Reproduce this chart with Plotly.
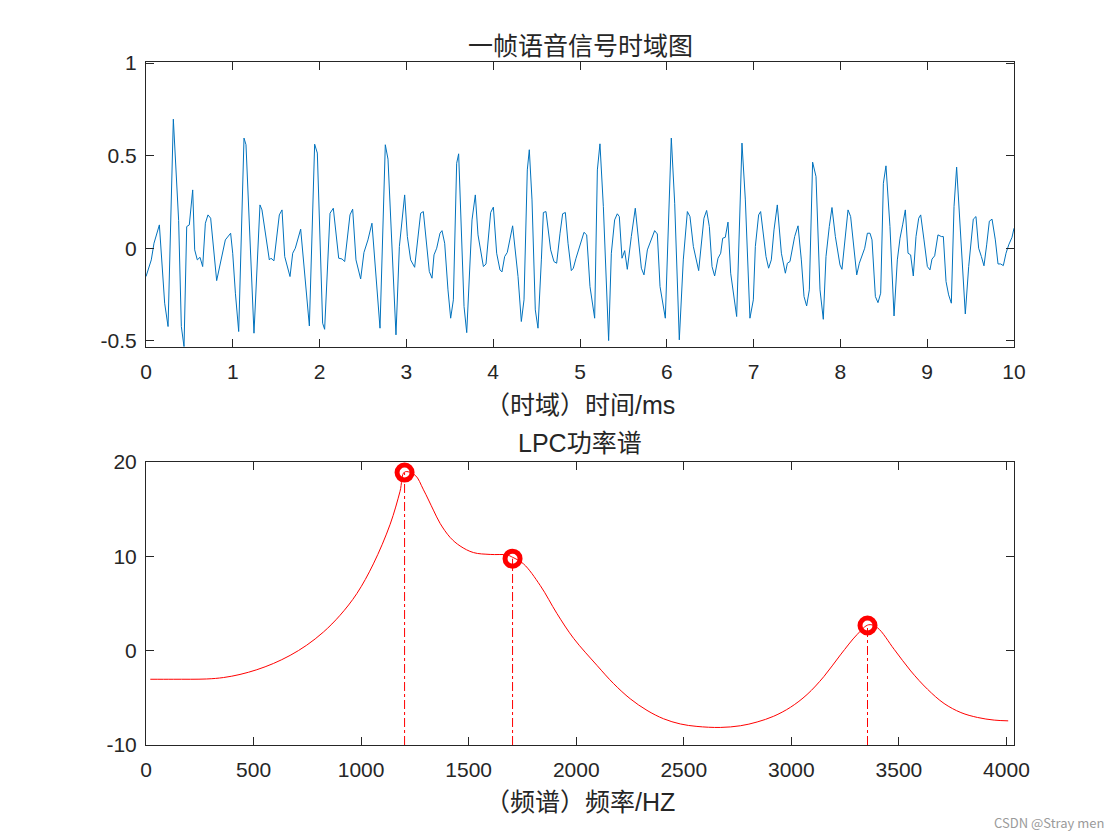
import plotly.graph_objects as go

# ---------------- data: frame of speech (time in ms, amplitude) ----------------
time_ms = [
    0.000, 0.061, 0.092, 0.154, 0.215, 0.254, 0.315, 0.346, 0.376, 0.407, 0.438, 0.469, 0.499, 0.538,
    0.561, 0.591, 0.622, 0.653, 0.684, 0.714, 0.745, 0.814, 0.914, 0.975, 0.999, 1.030, 1.068, 1.129,
    1.152, 1.244, 1.313, 1.336, 1.421, 1.440, 1.474, 1.536, 1.567, 1.598, 1.659, 1.690, 1.720, 1.782,
    1.882, 1.943, 1.974, 2.035, 2.058, 2.120, 2.158, 2.220, 2.258, 2.289, 2.350, 2.381, 2.419, 2.473,
    2.511, 2.557, 2.603, 2.696, 2.757, 2.788, 2.880, 2.919, 2.949, 2.980, 3.011, 3.049, 3.095, 3.164,
    3.195, 3.264, 3.295, 3.318, 3.349, 3.387, 3.410, 3.441, 3.479, 3.510, 3.541, 3.579, 3.602, 3.664,
    3.695, 3.756, 3.794, 3.825, 3.887, 3.917, 3.971, 4.002, 4.040, 4.078, 4.101, 4.132, 4.162, 4.193,
    4.224, 4.286, 4.324, 4.355, 4.393, 4.416, 4.447, 4.485, 4.516, 4.555, 4.578, 4.608, 4.662, 4.700,
    4.731, 4.770, 4.800, 4.831, 4.862, 4.900, 4.923, 4.954, 5.008, 5.046, 5.077, 5.115, 5.169, 5.200,
    5.230, 5.269, 5.330, 5.361, 5.399, 5.430, 5.453, 5.484, 5.515, 5.545, 5.591, 5.637, 5.707, 5.737,
    5.776, 5.829, 5.860, 5.891, 5.922, 5.983, 6.014, 6.052, 6.091, 6.144, 6.190, 6.237, 6.267, 6.306,
    6.367, 6.428, 6.459, 6.490, 6.521, 6.551, 6.590, 6.621, 6.644, 6.674, 6.705, 6.736, 6.805, 6.836,
    6.866, 6.905, 6.958, 6.997, 7.020, 7.058, 7.081, 7.143, 7.173, 7.204, 7.235, 7.273, 7.320, 7.366,
    7.389, 7.419, 7.473, 7.512, 7.550, 7.581, 7.611, 7.642, 7.680, 7.719, 7.765, 7.803, 7.834, 7.872,
    7.903, 7.942, 7.995, 8.018, 8.057, 8.088, 8.118, 8.149, 8.188, 8.218, 8.249, 8.280, 8.311, 8.341,
    8.364, 8.403, 8.433, 8.464, 8.495, 8.525, 8.571, 8.618, 8.656, 8.687, 8.717, 8.748, 8.779, 8.809,
    8.840, 8.871, 8.902, 8.925, 8.963, 9.002, 9.032, 9.055, 9.086, 9.124, 9.163, 9.186, 9.217, 9.247,
    9.278, 9.309, 9.339, 9.378, 9.439, 9.478, 9.508, 9.531, 9.562, 9.593, 9.624, 9.654, 9.685, 9.716,
    9.747, 9.785, 9.816, 9.846, 9.877, 9.908, 9.939, 9.977, 10.000,
]
amplitude = [
    -0.153, -0.063, 0.027, 0.126, -0.297, -0.423, 0.697, 0.420, 0.150, -0.423, -0.532, 0.117, 0.126, 0.315,
    -0.009, -0.063, -0.049, -0.099, 0.135, 0.180, 0.162, -0.175, 0.045, 0.081, -0.027, -0.243, -0.450, 0.595,
    0.559, -0.459, 0.234, 0.207, -0.063, -0.054, -0.068, 0.180, 0.207, -0.045, -0.153, -0.027, 0.000, 0.103,
    -0.420, 0.562, 0.514, -0.405, -0.438, 0.189, 0.216, -0.054, -0.058, -0.072, 0.180, 0.211, -0.063, -0.166,
    -0.023, 0.045, 0.135, -0.432, 0.559, 0.481, -0.468, 0.009, 0.153, 0.288, 0.063, -0.063, -0.103, 0.189,
    0.198, -0.126, -0.162, -0.036, 0.000, 0.081, 0.095, 0.027, -0.225, -0.378, -0.279, 0.459, 0.510, -0.315,
    -0.456, 0.153, 0.288, 0.072, -0.099, -0.085, 0.193, 0.222, -0.027, -0.117, -0.128, -0.045, -0.023, 0.045,
    0.121, -0.153, -0.396, -0.279, 0.423, 0.532, 0.261, -0.333, -0.432, -0.063, 0.193, 0.198, -0.009, -0.072,
    -0.081, 0.081, 0.186, 0.193, 0.027, -0.121, -0.108, -0.054, 0.023, 0.086, 0.072, -0.207, -0.378, 0.423,
    0.564, 0.225, -0.499, -0.027, 0.153, 0.186, 0.171, -0.054, -0.013, -0.114, 0.063, 0.216, -0.108, -0.144,
    -0.009, 0.063, 0.095, 0.077, -0.207, -0.378, 0.027, 0.595, 0.243, -0.495, -0.063, 0.198, 0.171, 0.009,
    -0.121, 0.162, 0.204, 0.117, -0.099, -0.150, -0.054, -0.027, 0.054, 0.059, 0.141, -0.135, -0.369, 0.063,
    0.568, 0.261, -0.378, -0.279, 0.009, 0.180, 0.198, -0.045, -0.108, -0.063, 0.099, 0.234, -0.027, -0.135,
    -0.081, -0.072, 0.063, 0.121, -0.063, -0.261, -0.312, -0.225, 0.465, 0.387, -0.225, -0.384, -0.045, 0.117,
    0.220, 0.063, -0.090, -0.114, 0.081, 0.207, 0.171, 0.027, -0.144, -0.081, -0.036, 0.000, 0.081, 0.081,
    0.045, -0.261, -0.294, -0.243, 0.351, 0.445, 0.117, -0.366, -0.063, 0.054, 0.126, 0.207, -0.027, -0.036,
    -0.150, 0.063, 0.162, 0.180, 0.045, -0.099, -0.117, -0.059, -0.041, 0.072, 0.063, 0.063, -0.180, -0.252,
    -0.297, 0.225, 0.438, 0.117, -0.355, -0.099, 0.063, 0.157, 0.171, 0.000, -0.045, -0.095, 0.018, 0.146,
    0.157, 0.045, -0.085, -0.085, -0.094, -0.027, 0.018, 0.059, 0.108,
]

# ---------------- data: LPC power spectrum (Hz, dB) ----------------
freq_hz = [
    20, 127, 282, 360, 437, 515, 592, 670, 747, 825, 902, 980, 1057, 1135, 1181, 1202, 1251, 1290,
    1336, 1367, 1414, 1460, 1522, 1600, 1678, 1704, 1755, 1833, 1910, 1988, 2096, 2174, 2251,
    2329, 2406, 2484, 2561, 2670, 2763, 2841, 2918, 2996, 3073, 3151, 3228, 3306, 3360, 3400, 3478,
    3555, 3633, 3710, 3788, 3865, 3943, 4008,
]
power_db = [
    -3.03, -3.03, -3.00, -2.85, -2.52, -2.02, -1.36, -0.50, 0.58, 1.98, 3.75, 6.05, 9.20, 13.4, 16.9, 18.94, 18.6, 17.05,
    14.9, 13.5, 12.0, 11.1, 10.4, 10.2, 10.15, 9.9, 9.2, 6.9, 3.95, 1.30, -1.55, -3.50, -5.10,
    -6.33, -7.22, -7.77, -8.03, -8.14, -7.96, -7.56, -6.95, -6.00, -4.65, -2.75, -0.45, 1.72, 2.75, 2.43, 0.14,
    -2.15, -4.09, -5.60, -6.56, -7.08, -7.36, -7.44,
]

# formant peaks
peak_freq = [1202, 1704, 3354]
peak_db = [18.88, 9.75, 2.67]

# axis settings
time_ticks = [0, 1, 2, 3, 4, 5, 6, 7, 8, 9, 10]
amp_ticks = [-0.5, 0, 0.5, 1]
amp_tick_labels = ["-0.5", "0", "0.5", "1"]
freq_ticks = [0, 500, 1000, 1500, 2000, 2500, 3000, 3500, 4000]
db_ticks = [-10, 0, 10, 20]
db_tick_labels = ["-10", "0", "10", "20"]

FONT = "Liberation Sans, Arial, Noto Sans CJK SC"
LABEL_FONT = "Liberation Sans, Noto Sans CJK SC"

fig = go.Figure()

fig.add_trace(go.Scatter(x=time_ms, y=amplitude, mode="lines",
                         line=dict(color="#0072BD", width=1), xaxis="x", yaxis="y",
                         showlegend=False, hoverinfo="skip"))

fig.add_trace(go.Scatter(x=freq_hz, y=power_db, mode="lines", line_shape="spline",
                         line=dict(color="#FF0000", width=1, smoothing=1.0), xaxis="x2", yaxis="y2",
                         showlegend=False, hoverinfo="skip"))

# stems (dash-dot) from the bottom of the axis to each peak
stem_x, stem_y = [], []
for f, d in zip(peak_freq, peak_db):
    stem_x += [f, f, None]
    stem_y += [db_ticks[0], d, None]
fig.add_trace(go.Scatter(x=stem_x, y=stem_y, mode="lines",
                         line=dict(color="#FF0000", width=1, dash="dashdot"),
                         xaxis="x2", yaxis="y2", showlegend=False, hoverinfo="skip"))

fig.add_trace(go.Scatter(x=peak_freq, y=peak_db, mode="markers",
                         marker=dict(symbol="circle-open", size=15, color="#FF0000",
                                     line=dict(color="#FF0000", width=5)),
                         xaxis="x2", yaxis="y2", showlegend=False, hoverinfo="skip"))

W, H = 1120, 840
def px(x):
    return x / W
def py(y):
    return 1 - y / H

axis_common = dict(showline=True, linecolor="#262626", linewidth=1, mirror="allticks",
                   ticks="inside", ticklen=8, tickwidth=1, tickcolor="#262626",
                   showgrid=False, zeroline=False, automargin=False,
                   tickfont=dict(family=FONT, size=21, color="#262626"))

fig.update_layout(
    width=W, height=H,
    margin=dict(l=0, r=0, t=0, b=0, autoexpand=False),
    paper_bgcolor="white", plot_bgcolor="white",
    xaxis=dict(domain=[px(146), px(1014)], anchor="y", range=[0, 10],
               tickvals=time_ticks, ticklabelstandoff=6, **axis_common),
    yaxis=dict(domain=[py(346.7), py(62)], anchor="x", range=[-0.532, 1.006],
               tickvals=amp_ticks, ticktext=amp_tick_labels, ticklabelstandoff=4, **axis_common),
    xaxis2=dict(domain=[px(146), px(1014)], anchor="y2", range=[0, 4035],
                tickvals=freq_ticks, ticklabelstandoff=6, **axis_common),
    yaxis2=dict(domain=[py(745), py(462)], anchor="x2", range=[-10, 20],
                tickvals=db_ticks, ticktext=db_tick_labels, ticklabelstandoff=4, **axis_common),
)

ann = [
    dict(text="一帧语音信号时域图", x=px(580), y=py(46)),
    dict(text="（时域）时间/ms", x=px(580), y=py(405)),
    dict(text="LPC功率谱", x=px(580), y=py(443)),
    dict(text="（频谱）频率/HZ", x=px(580), y=py(802)),
]
for a in ann:
    fig.add_annotation(xref="paper", yref="paper", x=a["x"], y=a["y"], text=a["text"],
                       showarrow=False, xanchor="center", yanchor="middle",
                       font=dict(family=LABEL_FONT, size=25, color="#262626"))

fig.add_annotation(xref="paper", yref="paper", x=px(1106), y=py(822), text="CSDN @Stray men",
                   showarrow=False, xanchor="right", yanchor="middle",
                   font=dict(family="Noto Sans CJK SC, Liberation Sans", size=13, color="#9a9a9a"))

fig.write_html(
    "out.html",
    config={"displayModeBar": False},
    post_script="document.body.style.margin='0';document.documentElement.style.overflow='hidden';",
)
